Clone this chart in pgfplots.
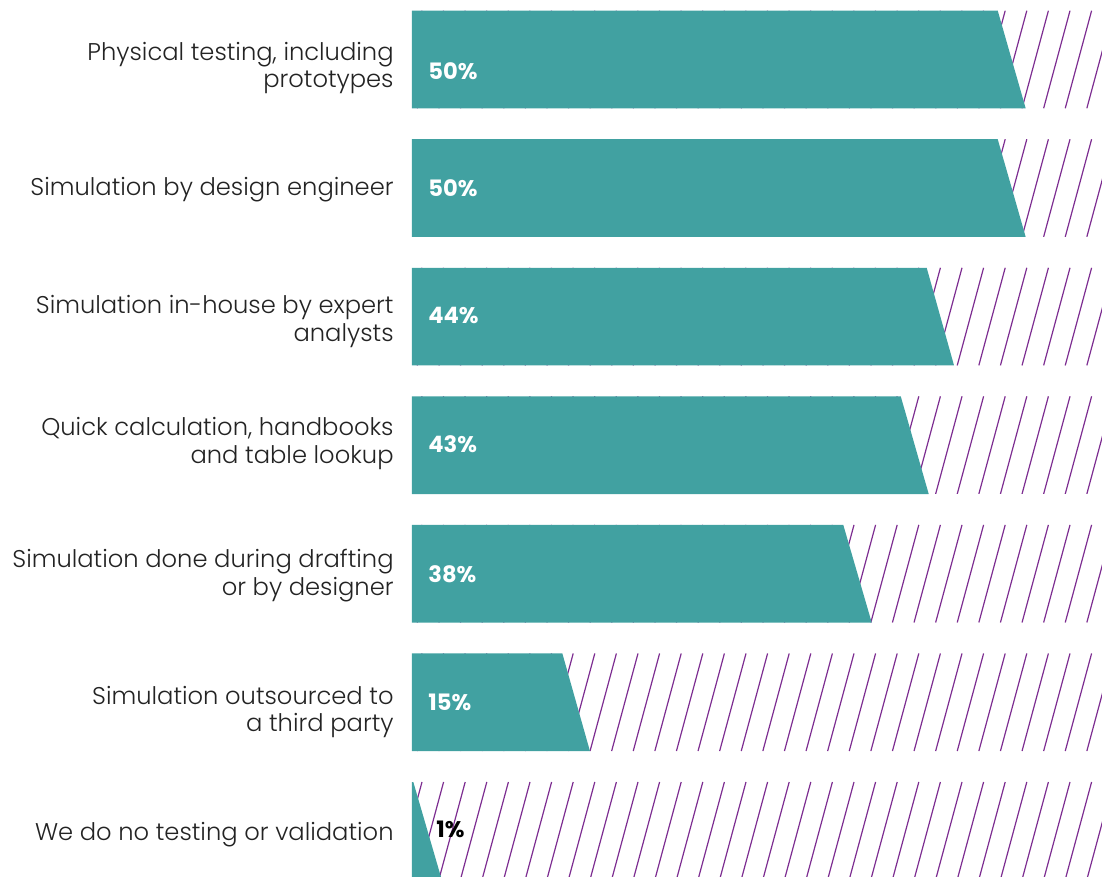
\documentclass[border=0pt]{standalone}
\usepackage{pgfplots}
\pgfplotsset{compat=1.18}
\usepackage{fontspec}
\setmainfont{Poppins}[UprightFont=* Light, BoldFont=* Bold]
\definecolor{barteal}{RGB}{65,161,161}
\definecolor{hatchpurple}{RGB}{125,45,145}
\definecolor{labelgray}{RGB}{35,35,35}

\begin{document}
\begin{tikzpicture}
% diagonal hatching of the background bands (decoration, behind the bars)
\begin{scope}
\clip (0,0) rectangle (345pt,438.5pt);
\foreach \i in {0,...,6}{
  \pgfmathsetmacro\yt{433.15-64.275*\i}
  \pgfmathsetmacro\yb{\yt-48.8}
  \begin{scope}
    \clip (0,\yb pt) rectangle (345pt,\yt pt);
    \foreach \k in {0,...,33}{
      \pgfmathsetmacro\xt{5+10.8*\k}
      \pgfmathsetmacro\xb{\xt-13.18}
      \draw[hatchpurple, line width=0.6pt] (\xt pt,\yt pt) -- (\xb pt,\yb pt);
    }
  \end{scope}
}
\end{scope}
\begin{axis}[
  at={(0,0)}, anchor=south west,
  scale only axis,
  width=345pt, height=438.5pt,
  xmin=0, xmax=57.5,
  ymin=-0.463, ymax=6.359,
  y dir=reverse,
  axis line style={draw=none},
  major tick length=0pt,
  xtick=\empty,
  ytick={0.05,1.0,2.023,2.97,4.0,5.06,6.01},
  yticklabels={{Physical testing, including\\prototypes},
               {Simulation by design engineer},
               {Simulation in-house by expert\\analysts},
               {Quick calculation, handbooks\\and table lookup},
               {Simulation done during drafting\\or by designer},
               {Simulation outsourced to\\a third party},
               {We do no testing or validation}},
  yticklabel style={align=right, inner sep=0pt, xshift=-9pt, yshift=-1pt,
     font=\fontsize{12.1}{13.8}\selectfont, text=labelgray},
  clip=true,
]
% bars: top-right end, bottom-right end (slanted)
\addplot[draw=none, fill=barteal] coordinates {(0,-0.38) (48.81,-0.38) (51.14,0.38) (0,0.38)} -- cycle;
\addplot[draw=none, fill=barteal] coordinates {(0,0.62) (48.81,0.62) (51.14,1.38) (0,1.38)} -- cycle;
\addplot[draw=none, fill=barteal] coordinates {(0,1.62) (42.89,1.62) (45.17,2.38) (0,2.38)} -- cycle;
\addplot[draw=none, fill=barteal] coordinates {(0,2.62) (40.73,2.62) (43.06,3.38) (0,3.38)} -- cycle;
\addplot[draw=none, fill=barteal] coordinates {(0,3.62) (35.94,3.62) (38.31,4.38) (0,4.38)} -- cycle;
\addplot[draw=none, fill=barteal] coordinates {(0,4.62) (12.53,4.62) (14.83,5.38) (0,5.38)} -- cycle;
\addplot[draw=none, fill=barteal] coordinates {(0,5.62) (0.11,5.62) (2.48,6.38) (0,6.38)} -- cycle;
% value labels
\addplot[only marks, mark=none, nodes near coords, point meta=explicit symbolic,
  every node near coord/.style={anchor=west, inner sep=0pt, text=white,
     font=\bfseries\fontsize{11.3}{13.6}\selectfont}]
  coordinates {(1.33,0.089)[50\%] (1.33,1.0)[50\%] (1.33,1.995)[44\%] (1.33,2.99)[43\%] (1.33,4.0)[38\%] (1.33,5.0)[15\%]};
\addplot[only marks, mark=none, nodes near coords, point meta=explicit symbolic,
  every node near coord/.style={anchor=west, inner sep=0pt, text=black,
     font=\bfseries\fontsize{11.3}{13.6}\selectfont}]
  coordinates {(2.0,5.99)[1\%]};
\end{axis}
\pgfresetboundingbox
\path ([xshift=-206pt]current axis.south west) rectangle (current axis.north east);
\end{tikzpicture}
\end{document}
